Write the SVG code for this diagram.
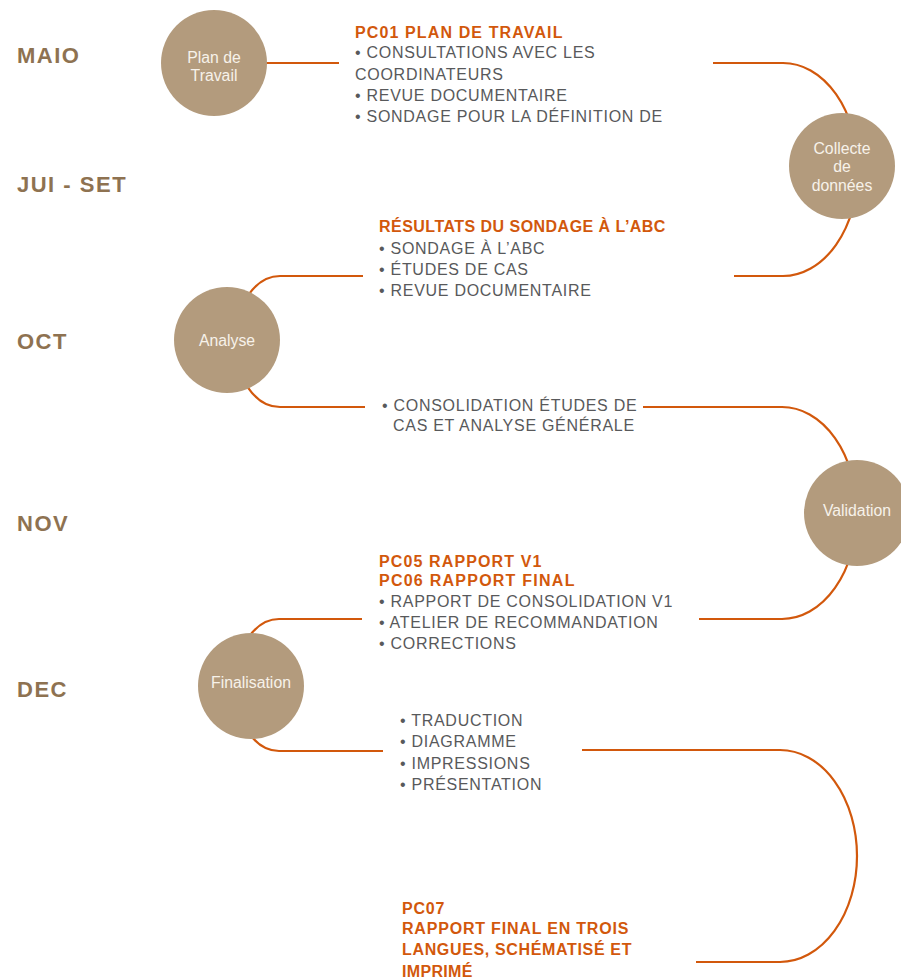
<svg xmlns="http://www.w3.org/2000/svg" width="901" height="979" viewBox="0 0 901 979">
<style>
.bg{fill:#ffffff}
.conn{fill:none;stroke:#D2580C;stroke-width:2.2}
.node circle{fill:#B39B7D}
.node text{fill:#F7F2EA;font-family:"Liberation Sans",Arial,sans-serif;font-size:15.8px;text-anchor:middle}
.month{fill:#8E7251;font-family:"Liberation Sans",Arial,sans-serif;font-weight:bold;font-size:22px;letter-spacing:1.5px}
.head{fill:#D2580C;font-family:"Liberation Sans",Arial,sans-serif;font-weight:bold;font-size:16px;letter-spacing:0.6px}
.item{fill:#58595B;font-family:"Liberation Sans",Arial,sans-serif;font-size:16px;letter-spacing:0.72px}
</style>
<rect class="bg" x="0" y="0" width="901" height="979"/>
<g id="months">
<text class="month" x="17" y="63">MAIO</text>
<text class="month" x="17" y="192">JUI - SET</text>
<text class="month" x="17" y="349">OCT</text>
<text class="month" x="17" y="531">NOV</text>
<text class="month" x="17" y="697">DEC</text>
</g>
<g id="connectors">
<path class="conn" d="M266,63 H339"/>
<path class="conn" d="M713,63 H783 A75,106.5 0 0 1 783,276 H734"/>
<path class="conn" d="M363,276 H280 A45,65.5 0 0 0 280,407 H365"/>
<path class="conn" d="M643,407 H782 A75,106 0 0 1 782,619 H699"/>
<path class="conn" d="M362,619 H279 A44,66 0 0 0 279,751 H383"/>
<path class="conn" d="M582,750 H780 A77,106 0 0 1 780,962 H696"/>
</g>
<g id="node-plan" class="node">
<circle cx="214" cy="63" r="53"/>
<text x="214" y="63">Plan de</text>
<text x="214" y="81">Travail</text>
</g>
<g id="node-collecte" class="node">
<circle cx="842" cy="166" r="53"/>
<text x="842" y="154">Collecte</text>
<text x="842" y="172">de</text>
<text x="842" y="191">données</text>
</g>
<g id="node-analyse" class="node">
<circle cx="227" cy="340" r="53"/>
<text x="227" y="346">Analyse</text>
</g>
<g id="node-validation" class="node">
<circle cx="857" cy="513" r="53"/>
<text x="857" y="516">Validation</text>
</g>
<g id="node-finalisation" class="node">
<circle cx="251" cy="686" r="53"/>
<text x="251" y="688">Finalisation</text>
</g>
<g id="text-pc01">
<text class="head" x="355" y="38" textLength="208" lengthAdjust="spacing">PC01 PLAN DE TRAVAIL</text>
<text class="item" x="355" y="58">• CONSULTATIONS AVEC LES</text>
<text class="item" x="355" y="80">COORDINATEURS</text>
<text class="item" x="355" y="101">• REVUE DOCUMENTAIRE</text>
<text class="item" x="355" y="122">• SONDAGE POUR LA DÉFINITION DE</text>
</g>
<g id="text-resultats">
<text class="head" x="379" y="232" textLength="287" lengthAdjust="spacing">RÉSULTATS DU SONDAGE À L’ABC</text>
<text class="item" x="379" y="254">• SONDAGE À L’ABC</text>
<text class="item" x="379" y="275">• ÉTUDES DE CAS</text>
<text class="item" x="379" y="296">• REVUE DOCUMENTAIRE</text>
</g>
<g id="text-consolidation">
<text class="item" x="382" y="411">• CONSOLIDATION ÉTUDES DE</text>
<text class="item" x="393" y="431">CAS ET ANALYSE GÉNÉRALE</text>
</g>
<g id="text-pc05">
<text class="head" x="379" y="567" textLength="163" lengthAdjust="spacing">PC05 RAPPORT V1</text>
<text class="head" x="379" y="586" textLength="196" lengthAdjust="spacing">PC06 RAPPORT FINAL</text>
<text class="item" x="379" y="607">• RAPPORT DE CONSOLIDATION V1</text>
<text class="item" x="379" y="628">• ATELIER DE RECOMMANDATION</text>
<text class="item" x="379" y="649">• CORRECTIONS</text>
</g>
<g id="text-traduction">
<text class="item" x="400" y="726">• TRADUCTION</text>
<text class="item" x="400" y="747">• DIAGRAMME</text>
<text class="item" x="400" y="769">• IMPRESSIONS</text>
<text class="item" x="400" y="790">• PRÉSENTATION</text>
</g>
<g id="text-pc07">
<text class="head" x="402" y="914" textLength="43" lengthAdjust="spacing">PC07</text>
<text class="head" x="402" y="934" textLength="227" lengthAdjust="spacing">RAPPORT FINAL EN TROIS</text>
<text class="head" x="402" y="955" textLength="230" lengthAdjust="spacing">LANGUES, SCHÉMATISÉ ET</text>
<text class="head" x="402" y="977" textLength="71" lengthAdjust="spacing">IMPRIMÉ</text>
</g>
</svg>
